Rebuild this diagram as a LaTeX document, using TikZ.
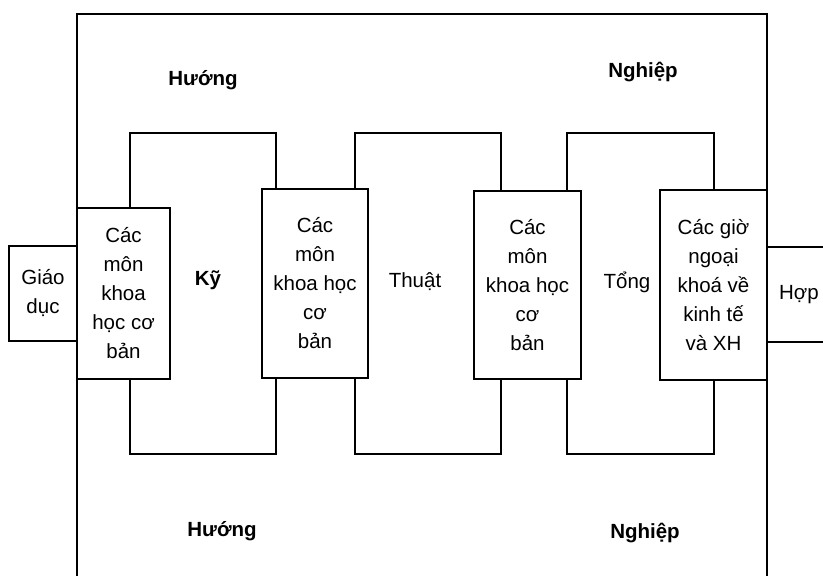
\documentclass[tikz,border=0pt]{standalone}
\usepackage{fontspec}
\setmainfont{Liberation Sans}

\begin{document}
\begin{tikzpicture}[x=1pt,y=-1pt,line width=1.5pt,
  box/.style={draw,align=center,inner sep=0pt,font=\fontsize{20.5}{29}\selectfont},
  word/.style={font=\fontsize{20.5}{29}\selectfont},
  heavy/.style={font=\fontsize{20.5}{29}\selectfont\bfseries}]
  \useasboundingbox (0,0) rectangle (823,576);
  % frame
  \draw (77,576) -- (77,14) -- (767,14) -- (767,576);
  % boxes
  \node[box,minimum width=68,minimum height=95] (giao) at (43,293.5) {Giáo\\dục};
  \node[box,minimum width=93,minimum height=171] (b1) at (123.5,293.5) {Các\\môn\\khoa\\học cơ\\bản};
  \node[box,minimum width=106,minimum height=189] (b2) at (315,283.5) {Các\\môn\\khoa học\\cơ\\bản};
  \node[box,minimum width=107,minimum height=188] (b3) at (527.5,285) {Các\\môn\\khoa học\\cơ\\bản};
  \node[box,minimum width=107,minimum height=190] (b4) at (713.5,285) {Các giờ\\ngoại\\khoá về\\kinh tế\\và XH};
  \node[box,minimum width=64,minimum height=95] (hop) at (799,294.5) {Hợp};
  % brackets
  \foreach \a/\b/\xa/\xb in {b1/b2/130/276,b2/b3/355/501,b3/b4/567/714} {
    \draw (\xa,0 |- \a.north) |- (\xb,133) -- (\xb,0 |- \b.north);
    \draw (\xa,0 |- \a.south) |- (\xb,454) -- (\xb,0 |- \b.south);
  }
  % words
  \node[heavy] (ky) at (208,280) {Kỹ};
  \node[word] (thuat) at (415,282) {Thuật};
  \node[word] (tong) at (627,282) {Tổng};
  \node[heavy] (huong1) at (203,80) {Hướng};
  \node[heavy] (nghiep1) at (643,72) {Nghiệp};
  \node[heavy] (huong2) at (222,531) {Hướng};
  \node[heavy] (nghiep2) at (645,533) {Nghiệp};
\end{tikzpicture}
\end{document}
